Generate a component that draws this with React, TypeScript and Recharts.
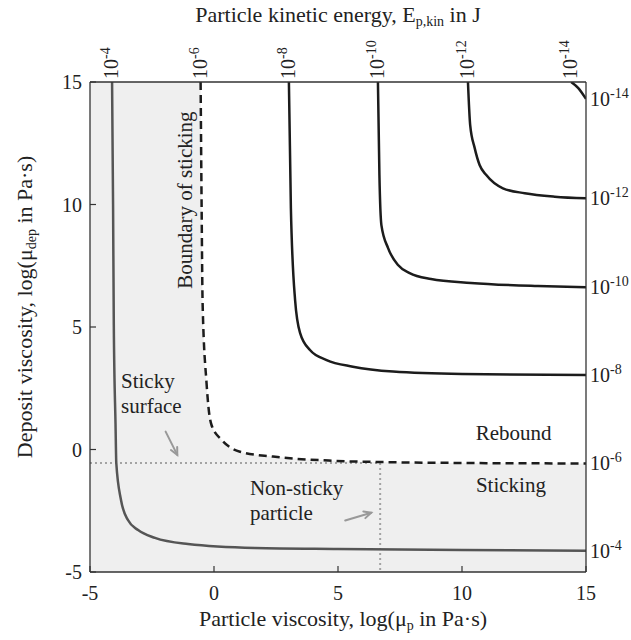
import React from 'react';
import {
  ComposedChart,
  Line,
  Area,
  XAxis,
  YAxis,
  CartesianGrid,
  ReferenceLine,
  ReferenceDot,
  Label,
} from 'recharts';

// iso-energy curves (x = log particle viscosity, y = log deposit viscosity)
const curveE4 = [
  { x: -4.11, y: 15 }, { x: -4.07, y: 10 }, { x: -4.04, y: 5.08 }, { x: -3.97, y: 1 },
  { x: -3.94, y: -0.55 }, { x: -3.75, y: -2.06 }, { x: -3.47, y: -2.88 }, { x: -3.06, y: -3.29 },
  { x: -2.38, y: -3.61 }, { x: -1.05, y: -3.86 }, { x: 1.65, y: -4.02 }, { x: 5, y: -4.06 },
  { x: 10, y: -4.1 }, { x: 15, y: -4.13 },
];
const curveE6 = [
  { x: -0.54, y: 15 }, { x: -0.5, y: 10 }, { x: -0.46, y: 6 }, { x: -0.3, y: 2.7 },
  { x: -0.22, y: 1.7 }, { x: -0.1, y: 1.0 }, { x: 0.31, y: 0.39 }, { x: 1.05, y: -0.09 },
  { x: 2.38, y: -0.29 }, { x: 4.8, y: -0.46 }, { x: 7.2, y: -0.52 }, { x: 10, y: -0.55 },
  { x: 15, y: -0.57 },
];
const curveE8 = [
  { x: 3.02, y: 15 }, { x: 3.1, y: 9.86 }, { x: 3.27, y: 6.1 }, { x: 3.47, y: 4.76 },
  { x: 3.87, y: 4.06 }, { x: 4.54, y: 3.65 }, { x: 5.6, y: 3.38 }, { x: 7.22, y: 3.18 },
  { x: 10, y: 3.08 }, { x: 15, y: 3.04 },
];
const curveE10 = [
  { x: 6.61, y: 15 }, { x: 6.67, y: 11.2 }, { x: 6.75, y: 9.16 }, { x: 7.02, y: 8.22 },
  { x: 7.42, y: 7.53 }, { x: 7.89, y: 7.2 }, { x: 8.75, y: 6.96 }, { x: 10.36, y: 6.8 },
  { x: 13.06, y: 6.67 }, { x: 15, y: 6.62 },
];
const curveE12 = [
  { x: 10.24, y: 15 }, { x: 10.33, y: 13.24 }, { x: 10.51, y: 12.31 }, { x: 10.71, y: 11.61 },
  { x: 10.98, y: 11.2 }, { x: 11.65, y: 10.66 }, { x: 12.53, y: 10.46 }, { x: 13.74, y: 10.32 },
  { x: 15, y: 10.25 },
];
const curveE14 = [{ x: 14.4, y: 15 }, { x: 14.68, y: 14.76 }, { x: 15, y: 14.31 }];

const energyExponents = ['-4', '-6', '-8', '-10', '-12', '-14'];
const xTicks = [-5, 0, 5, 10, 15];
const yTicks = [-5, 0, 5, 10, 15];
const stickySurfaceY = -0.55;
const nonStickyX = 6.7;

const curves = [curveE4, curveE6, curveE8, curveE10, curveE12, curveE14];
const topTicks = curves.map((c) => c[0].x);
const rightTicks = curves.map((c) => c[c.length - 1].y);
// region above the boundary of sticking (rebound) is left white
const reboundBand = curveE6.map((p) => ({ x: p.x, band: [p.y, 15] }));

const FONT = "'Liberation Serif', 'Times New Roman', Times, serif";
const AXIS = '#333';
const TXT = '#222';
const GUIDE = '#a3a3a3';
const fontStyle = { fontFamily: FONT };

const BottomTick = (p: any) => (
  <g>
    <line x1={p.x} y1={p.y} x2={p.x} y2={p.y - 6} stroke={AXIS} strokeWidth={1.2} />
    <text x={p.x} y={p.y + 28} textAnchor="middle" style={fontStyle} fontSize={20} fill={TXT}>
      {p.payload.value}
    </text>
  </g>
);

const LeftTick = (p: any) => (
  <g>
    <line x1={p.x} y1={p.y} x2={p.x + 6} y2={p.y} stroke={AXIS} strokeWidth={1.2} />
    <text x={p.x - 8} y={p.y + 7} textAnchor="end" style={fontStyle} fontSize={20} fill={TXT}>
      {p.payload.value}
    </text>
  </g>
);

const TopTick = (p: any) => {
  const i = topTicks.indexOf(p.payload.value);
  return (
    <text
      transform={`translate(${p.x + 6},${p.y - 3}) rotate(-90)`}
      style={fontStyle}
      fontSize={20}
      fill={TXT}
    >
      10
      <tspan dy={-8} fontSize={14}>{energyExponents[i]}</tspan>
    </text>
  );
};

const RightTick = (p: any) => {
  const i = rightTicks.indexOf(p.payload.value);
  return (
    <text x={p.x + 4} y={p.y + 7} style={fontStyle} fontSize={20} fill={TXT}>
      10
      <tspan dy={-8} fontSize={14}>{energyExponents[i]}</tspan>
    </text>
  );
};

const Arrow = (p: any) => {
  const { x1, y1, x2, y2 } = p;
  if (x1 == null) return null;
  const ang = Math.atan2(y2 - y1, x2 - x1);
  const L = 8;
  const a = 0.45;
  const h1 = `${x2 - L * Math.cos(ang - a)},${y2 - L * Math.sin(ang - a)}`;
  const h2 = `${x2 - L * Math.cos(ang + a)},${y2 - L * Math.sin(ang + a)}`;
  return (
    <g stroke="#999" strokeWidth={2} fill="none" strokeLinecap="round">
      <line x1={x1} y1={y1} x2={x2} y2={y2} />
      <polyline points={`${h1} ${x2},${y2} ${h2}`} />
    </g>
  );
};

const textAt = (lines: string[], opts: any = {}) => (p: any) => (
  <text
    x={p.cx}
    y={p.cy}
    style={fontStyle}
    fontSize={21}
    fill={TXT}
    textAnchor={opts.anchor || 'start'}
    transform={opts.rotate ? `rotate(-90, ${p.cx}, ${p.cy})` : undefined}
  >
    {lines.map((l, i) => (
      <tspan key={l} x={p.cx} dy={i === 0 ? 0 : 25}>{l}</tspan>
    ))}
  </text>
);

const BottomTitle = (p: any) => {
  const vb = p.viewBox;
  return (
    <text x={vb.x + vb.width / 2 + 5} y={vb.y + 54} textAnchor="middle" style={fontStyle} fontSize={22} fill={TXT}>
      Particle viscosity, log(μ<tspan dy={4} fontSize={14}>p</tspan>
      <tspan dy={-4}> in Pa·s)</tspan>
    </text>
  );
};

const LeftTitle = () => {
  const cy = 307;
  const bx = 32;
  return (
    <text transform={`translate(${bx},${cy}) rotate(-90)`} textAnchor="middle" style={fontStyle} fontSize={22} fill={TXT}>
      Deposit viscosity, log(μ<tspan dy={4} fontSize={14}>dep</tspan>
      <tspan dy={-4}> in Pa·s)</tspan>
    </text>
  );
};

const TopTitle = (p: any) => {
  const vb = p.viewBox;
  return (
    <text x={vb.x + vb.width / 2} y={22} textAnchor="middle" style={fontStyle} fontSize={22} fill={TXT}>
      Particle kinetic energy, E<tspan dy={4} fontSize={14}>p,kin</tspan>
      <tspan dy={-4}> in J</tspan>
    </text>
  );
};

export default function App() {
  const ax = { xAxisId: 'bottom', yAxisId: 'left' };
  return (
    <div style={{ position: 'absolute', left: 0, top: 0, background: '#fff' }}>
      <ComposedChart
        width={631}
        height={640}
        data={reboundBand}
        margin={{ top: 0, right: 0, bottom: 0, left: 0 }}
      >
        <CartesianGrid {...ax} horizontal={false} vertical={false} fill="#efefef" fillOpacity={1} />
        <XAxis
          xAxisId="bottom"
          dataKey="x"
          type="number"
          domain={[-5, 15]}
          allowDataOverflow
          ticks={xTicks}
          interval={0}
          height={68}
          tickSize={0}
          tickMargin={0}
          tickLine={false}
          tick={BottomTick}
          axisLine={{ stroke: AXIS, strokeWidth: 1.3 }}
        >
          <Label content={BottomTitle} />
        </XAxis>
        <XAxis
          xAxisId="top"
          orientation="top"
          dataKey="x"
          type="number"
          domain={[-5, 15]}
          allowDataOverflow
          ticks={topTicks}
          interval={0}
          height={82}
          tickSize={0}
          tickMargin={0}
          tickLine={false}
          tick={TopTick}
          axisLine={{ stroke: AXIS, strokeWidth: 1.3 }}
        >
          <Label content={TopTitle} />
        </XAxis>
        <YAxis
          yAxisId="left"
          type="number"
          domain={[-5, 15]}
          allowDataOverflow
          ticks={yTicks}
          interval={0}
          width={90}
          tickSize={0}
          tickMargin={0}
          tickLine={false}
          tick={LeftTick}
          axisLine={{ stroke: AXIS, strokeWidth: 1.3 }}
        >
          <Label content={LeftTitle} />
        </YAxis>
        <YAxis
          yAxisId="right"
          orientation="right"
          type="number"
          domain={[-5, 15]}
          allowDataOverflow
          ticks={rightTicks}
          interval={0}
          width={45}
          tickSize={0}
          tickMargin={0}
          tickLine={false}
          tick={RightTick}
          axisLine={{ stroke: AXIS, strokeWidth: 1.3 }}
        />

        <Area
          {...ax}
          dataKey="band"
          type="monotone"
          fill="#ffffff"
          fillOpacity={1}
          stroke="none"
          dot={false}
          activeDot={false}
          isAnimationActive={false}
        />

        <ReferenceLine
          {...ax}
          segment={[{ x: -5, y: stickySurfaceY }, { x: nonStickyX, y: stickySurfaceY }]}
          stroke={GUIDE}
          strokeWidth={2}
          strokeDasharray="2 3"
        />
        <ReferenceLine
          {...ax}
          segment={[{ x: nonStickyX, y: stickySurfaceY }, { x: nonStickyX, y: -5 }]}
          stroke={GUIDE}
          strokeWidth={2}
          strokeDasharray="2 3"
        />

        <Line {...ax} data={curveE4} dataKey="y" type="monotone" stroke="#555" strokeWidth={2.5} dot={false} activeDot={false} isAnimationActive={false} />
        <Line {...ax} data={curveE6} dataKey="y" type="monotone" stroke="#1c1c1c" strokeWidth={2.5} strokeDasharray="8 5" dot={false} activeDot={false} isAnimationActive={false} />
        <Line {...ax} data={curveE8} dataKey="y" type="monotone" stroke="#1c1c1c" strokeWidth={2.5} dot={false} activeDot={false} isAnimationActive={false} />
        <Line {...ax} data={curveE10} dataKey="y" type="monotone" stroke="#1c1c1c" strokeWidth={2.5} dot={false} activeDot={false} isAnimationActive={false} />
        <Line {...ax} data={curveE12} dataKey="y" type="monotone" stroke="#1c1c1c" strokeWidth={2.5} dot={false} activeDot={false} isAnimationActive={false} />
        <Line {...ax} data={curveE14} dataKey="y" type="monotone" stroke="#1c1c1c" strokeWidth={2.5} dot={false} activeDot={false} isAnimationActive={false} />

        <ReferenceLine {...ax} segment={[{ x: -1.95, y: 0.73 }, { x: -1.48, y: -0.22 }]} shape={Arrow} />
        <ReferenceLine {...ax} segment={[{ x: 5.29, y: -2.9 }, { x: 6.34, y: -2.58 }]} shape={Arrow} />

        <ReferenceDot {...ax} x={-3.75} y={2.51} r={0} shape={textAt(['Sticky', 'surface'])} />
        <ReferenceDot {...ax} x={1.45} y={-1.86} r={0} shape={textAt(['Non-sticky', 'particle'])} />
        <ReferenceDot {...ax} x={10.55} y={0.39} r={0} shape={textAt(['Rebound'])} />
        <ReferenceDot {...ax} x={10.56} y={-1.72} r={0} shape={textAt(['Sticking'])} />
        <ReferenceDot {...ax} x={-0.9} y={10.18} r={0} shape={textAt(['Boundary of sticking'], { anchor: 'middle', rotate: true })} />
      </ComposedChart>
    </div>
  );
}
